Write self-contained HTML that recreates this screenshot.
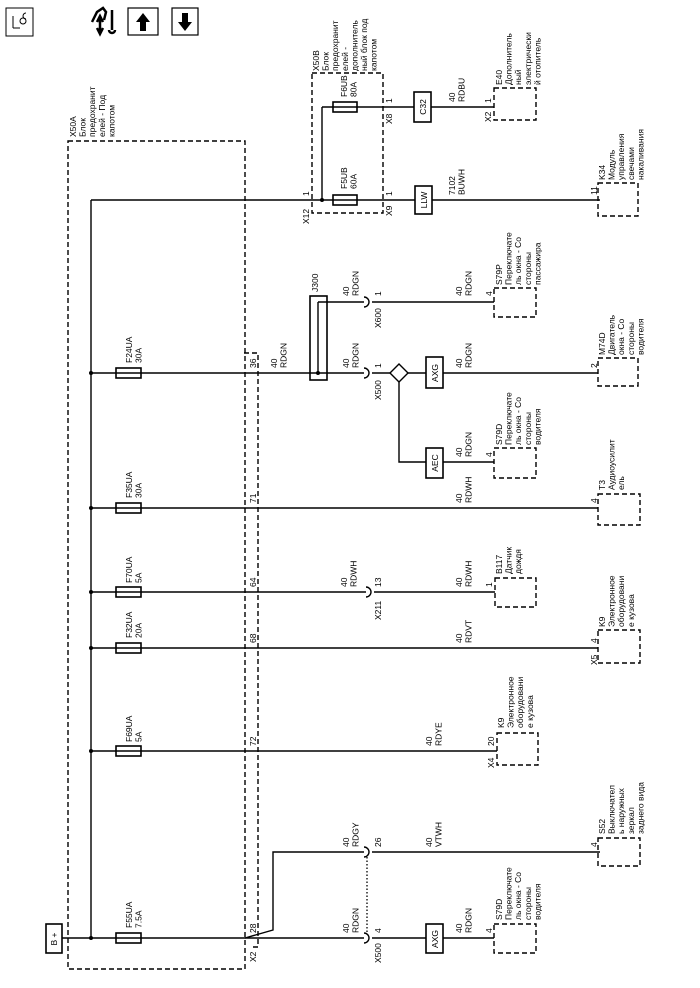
<!DOCTYPE html>
<html><head><meta charset="utf-8"><style>
html,body{margin:0;padding:0;background:#fff;}
svg{display:block;}
text{font-family:"Liberation Sans",sans-serif;font-size:8.5px;fill:#000;}
.w{stroke:#000;stroke-width:1.4;fill:none;}
.d{stroke:#000;stroke-width:1.4;fill:none;stroke-dasharray:5,3;}
.b{stroke:#000;stroke-width:1.6;fill:#fff;}
</style></head><body>
<svg width="700" height="988" viewBox="0 0 700 988" xmlns="http://www.w3.org/2000/svg">
<!-- top icons -->
<rect x="6" y="8" width="27" height="28" fill="#fff" stroke="#000" stroke-width="1"/>
<path d="M13,28 L13,16 M13,28 L20,28" stroke="#000" stroke-width="1" fill="none"/>
<circle cx="23" cy="21" r="3" stroke="#000" fill="none" stroke-width="1"/>
<path d="M26,13 A3,3 0 1 0 26,19" stroke="#000" fill="none" stroke-width="1"/>
<path d="M92,22 L97,12 L103,8 L106,12 L104,20 M100,18 L100,32 M97,28 L100,34 L103,28 M97,22 L100,16 L103,22 M112,10 L112,30 M109,30 A3,3 0 1 0 115,30" stroke="#000" stroke-width="2.5" fill="none"/>
<rect x="128" y="8" width="30" height="27" fill="#fff" stroke="#000" stroke-width="1.2"/>
<path d="M143,13 L150,22 L146,22 L146,31 L140,31 L140,22 L136,22 Z" fill="#000"/>
<rect x="172" y="8" width="26" height="27" fill="#fff" stroke="#000" stroke-width="1.2"/>
<path d="M185,31 L192,22 L188,22 L188,13 L182,13 L182,22 L178,22 Z" fill="#000"/>

<!-- X50A box -->
<rect class="d" x="68" y="141" width="177" height="828"/>
<path class="d" d="M244,353 L258,353 L258,947 L252,947"/>
<!-- X50B box -->
<rect class="d" x="312" y="73" width="71" height="140"/>

<!-- bus -->
<path class="w" d="M91,200 L91,938"/>
<!-- top wire -->
<path class="w" d="M91,200 L600,200"/>
<path class="w" d="M322,107 L322,200 M322,107 L494,107"/>
<circle cx="322" cy="200" r="2" fill="#000"/>
<rect class="b" x="333" y="195" width="24" height="10"/><path class="w" d="M333,200 L357,200"/>
<rect class="b" x="333" y="102" width="24" height="10"/><path class="w" d="M333,107 L357,107"/>
<rect class="b" x="415" y="186" width="17" height="28"/>
<rect class="b" x="414" y="92" width="17" height="30"/>
<rect class="d" x="494" y="88" width="42" height="32"/>
<rect class="d" x="598" y="183" width="40" height="33"/>

<!-- F24UA etc. wires -->
<path class="w" d="M91,373 L364,373 M372,373 L390,373 M408,373 L598,373"/>
<path class="w" d="M318,302 L318,373 M318,302 L364,302 M372,302 L494,302"/>
<path class="w" d="M364,368 A5,5 0 0 1 364,378 M364,297 A5,5 0 0 1 364,307"/>
<rect x="310" y="296" width="17" height="84" fill="none" stroke="#000" stroke-width="1.6"/>
<circle cx="318" cy="373" r="2" fill="#000"/>
<path d="M399,364 L408,373 L399,382 L390,373 Z" fill="#fff" stroke="#000" stroke-width="1.4"/>
<path class="w" d="M399,382 L399,462 L494,462"/>
<rect class="b" x="426" y="357" width="17" height="31"/>
<rect class="b" x="426" y="448" width="17" height="30"/>
<rect class="d" x="494" y="288" width="42" height="29"/>
<rect class="d" x="494" y="448" width="42" height="30"/>
<rect class="d" x="598" y="358" width="40" height="28"/>

<path class="w" d="M91,508 L598,508"/>
<rect class="d" x="598" y="494" width="42" height="31"/>
<path class="w" d="M91,592 L366,592 M374,592 L495,592 M366,587 A5,5 0 0 1 366,597"/>
<rect class="d" x="495" y="578" width="41" height="29"/>
<path class="w" d="M91,648 L598,648"/>
<rect class="d" x="598" y="630" width="42" height="33"/>
<path class="w" d="M91,751 L497,751"/>
<rect class="d" x="497" y="733" width="41" height="32"/>

<path class="w" d="M62,938 L245,938 L273,930 L273,852 L364,852 M372,852 L600,852 M364,847 A5,5 0 0 1 364,857"/>
<path class="w" d="M245,938 L364,938 M372,938 L494,938 M364,933 A5,5 0 0 1 364,943"/>
<path d="M367,857 L367,933" stroke="#000" stroke-width="1.3" stroke-dasharray="1.5,2"/>
<rect class="b" x="426" y="924" width="17" height="29"/>
<rect class="d" x="494" y="924" width="42" height="29"/>
<rect class="d" x="598" y="838" width="42" height="28"/>
<rect class="b" x="46" y="924" width="16" height="29"/>

<!-- fuses on bus -->
<g>
<rect class="b" x="116" y="368" width="25" height="10"/><path class="w" d="M116,373 L141,373"/>
<rect class="b" x="116" y="503" width="25" height="10"/><path class="w" d="M116,508 L141,508"/>
<rect class="b" x="116" y="587" width="25" height="10"/><path class="w" d="M116,592 L141,592"/>
<rect class="b" x="116" y="643" width="25" height="10"/><path class="w" d="M116,648 L141,648"/>
<rect class="b" x="116" y="746" width="25" height="10"/><path class="w" d="M116,751 L141,751"/>
<rect class="b" x="116" y="933" width="25" height="10"/><path class="w" d="M116,938 L141,938"/>
</g>
<g fill="#000">
<circle cx="91" cy="373" r="2"/><circle cx="91" cy="508" r="2"/><circle cx="91" cy="592" r="2"/>
<circle cx="91" cy="648" r="2"/><circle cx="91" cy="751" r="2"/><circle cx="91" cy="938" r="2"/>
</g>

<!-- box texts -->
<text transform="translate(57,939) rotate(-90)" text-anchor="middle">B +</text>
<text transform="translate(427,200) rotate(-90)" text-anchor="middle">LLW</text>
<text transform="translate(426,107) rotate(-90)" text-anchor="middle">C32</text>
<text transform="translate(438,373) rotate(-90)" text-anchor="middle">AXG</text>
<text transform="translate(438,463) rotate(-90)" text-anchor="middle">AEC</text>
<text transform="translate(438,939) rotate(-90)" text-anchor="middle">AXG</text>

<!-- labels -->
<text transform="translate(76,137) rotate(-90)"><tspan x="0">X50A</tspan><tspan x="0" dy="9.6">Блок</tspan><tspan x="0" dy="9.6">предохранит</tspan><tspan x="0" dy="9.6">елей - Под</tspan><tspan x="0" dy="9.6">капотом</tspan></text>
<text transform="translate(319,71) rotate(-90)"><tspan x="0">X50B</tspan><tspan x="0" dy="9.6">Блок</tspan><tspan x="0" dy="9.6">предохранит</tspan><tspan x="0" dy="9.6">елей -</tspan><tspan x="0" dy="9.6">дополнитель</tspan><tspan x="0" dy="9.6">ный блок под</tspan><tspan x="0" dy="9.6">капотом</tspan></text>
<text transform="translate(347,189) rotate(-90)"><tspan x="0">F5UB</tspan><tspan x="0" dy="9.6">60A</tspan></text>
<text transform="translate(347,97) rotate(-90)"><tspan x="0">F6UB</tspan><tspan x="0" dy="9.6">80A</tspan></text>
<text transform="translate(309,196) rotate(-90)">1</text>
<text transform="translate(309,224) rotate(-90)">X12</text>
<text transform="translate(392,196) rotate(-90)">1</text>
<text transform="translate(392,216) rotate(-90)">X9</text>
<text transform="translate(392,103) rotate(-90)">1</text>
<text transform="translate(392,124) rotate(-90)">X8</text>
<text transform="translate(455,102) rotate(-90)"><tspan x="0">40</tspan><tspan x="0" dy="9.6">RDBU</tspan></text>
<text transform="translate(491,103) rotate(-90)">1</text>
<text transform="translate(491,122) rotate(-90)">X2</text>
<text transform="translate(502,85) rotate(-90)"><tspan x="0">E40</tspan><tspan x="0" dy="9.6">Дополнитель</tspan><tspan x="0" dy="9.6">ный</tspan><tspan x="0" dy="9.6">электрически</tspan><tspan x="0" dy="9.6">й отопитель</tspan></text>
<text transform="translate(455,195) rotate(-90)"><tspan x="0">7102</tspan><tspan x="0" dy="9.6">BUWH</tspan></text>
<text transform="translate(597,195) rotate(-90)">11</text>
<text transform="translate(605,180) rotate(-90)"><tspan x="0">K34</tspan><tspan x="0" dy="9.6">Модуль</tspan><tspan x="0" dy="9.6">управления</tspan><tspan x="0" dy="9.6">свечами</tspan><tspan x="0" dy="9.6">накаливания</tspan></text>

<text transform="translate(318,292) rotate(-90)">J300</text>
<text transform="translate(349,296) rotate(-90)"><tspan x="0">40</tspan><tspan x="0" dy="9.6">RDGN</tspan></text>
<text transform="translate(381,296) rotate(-90)">1</text>
<text transform="translate(381,328) rotate(-90)">X600</text>
<text transform="translate(462,296) rotate(-90)"><tspan x="0">40</tspan><tspan x="0" dy="9.6">RDGN</tspan></text>
<text transform="translate(492,296) rotate(-90)">4</text>
<text transform="translate(502,285) rotate(-90)"><tspan x="0">S79P</tspan><tspan x="0" dy="9.6">Переключате</tspan><tspan x="0" dy="9.6">ль окна - Со</tspan><tspan x="0" dy="9.6">стороны</tspan><tspan x="0" dy="9.6">пассажира</tspan></text>

<text transform="translate(256,368) rotate(-90)">36</text>
<text transform="translate(277,368) rotate(-90)"><tspan x="0">40</tspan><tspan x="0" dy="9.6">RDGN</tspan></text>
<text transform="translate(349,368) rotate(-90)"><tspan x="0">40</tspan><tspan x="0" dy="9.6">RDGN</tspan></text>
<text transform="translate(381,368) rotate(-90)">1</text>
<text transform="translate(381,400) rotate(-90)">X500</text>
<text transform="translate(462,368) rotate(-90)"><tspan x="0">40</tspan><tspan x="0" dy="9.6">RDGN</tspan></text>
<text transform="translate(597,368) rotate(-90)">2</text>
<text transform="translate(605,355) rotate(-90)"><tspan x="0">M74D</tspan><tspan x="0" dy="9.6">Двигатель</tspan><tspan x="0" dy="9.6">окна - Со</tspan><tspan x="0" dy="9.6">стороны</tspan><tspan x="0" dy="9.6">водителя</tspan></text>
<text transform="translate(462,457) rotate(-90)"><tspan x="0">40</tspan><tspan x="0" dy="9.6">RDGN</tspan></text>
<text transform="translate(492,457) rotate(-90)">4</text>
<text transform="translate(502,445) rotate(-90)"><tspan x="0">S79D</tspan><tspan x="0" dy="9.6">Переключате</tspan><tspan x="0" dy="9.6">ль окна - Со</tspan><tspan x="0" dy="9.6">стороны</tspan><tspan x="0" dy="9.6">водителя</tspan></text>

<text transform="translate(256,503) rotate(-90)">71</text>
<text transform="translate(462,503) rotate(-90)"><tspan x="0">40</tspan><tspan x="0" dy="9.6">RDWH</tspan></text>
<text transform="translate(597,503) rotate(-90)">4</text>
<text transform="translate(605,490) rotate(-90)"><tspan x="0">T3</tspan><tspan x="0" dy="9.6">Аудиоусилит</tspan><tspan x="0" dy="9.6">ель</tspan></text>

<text transform="translate(256,587) rotate(-90)">64</text>
<text transform="translate(347,587) rotate(-90)"><tspan x="0">40</tspan><tspan x="0" dy="9.6">RDWH</tspan></text>
<text transform="translate(381,587) rotate(-90)">13</text>
<text transform="translate(381,620) rotate(-90)">X211</text>
<text transform="translate(462,587) rotate(-90)"><tspan x="0">40</tspan><tspan x="0" dy="9.6">RDWH</tspan></text>
<text transform="translate(492,587) rotate(-90)">1</text>
<text transform="translate(502,574) rotate(-90)"><tspan x="0">B117</tspan><tspan x="0" dy="9.6">Датчик</tspan><tspan x="0" dy="9.6">дождя</tspan></text>

<text transform="translate(256,643) rotate(-90)">68</text>
<text transform="translate(462,643) rotate(-90)"><tspan x="0">40</tspan><tspan x="0" dy="9.6">RDVT</tspan></text>
<text transform="translate(597,643) rotate(-90)">4</text>
<text transform="translate(597,665) rotate(-90)">X5</text>
<text transform="translate(605,627) rotate(-90)"><tspan x="0">K9</tspan><tspan x="0" dy="9.6">Электронное</tspan><tspan x="0" dy="9.6">оборудовани</tspan><tspan x="0" dy="9.6">е кузова</tspan></text>

<text transform="translate(256,746) rotate(-90)">72</text>
<text transform="translate(432,746) rotate(-90)"><tspan x="0">40</tspan><tspan x="0" dy="9.6">RDYE</tspan></text>
<text transform="translate(494,746) rotate(-90)">20</text>
<text transform="translate(494,768) rotate(-90)">X4</text>
<text transform="translate(504,728) rotate(-90)"><tspan x="0">K9</tspan><tspan x="0" dy="9.6">Электронное</tspan><tspan x="0" dy="9.6">оборудовани</tspan><tspan x="0" dy="9.6">е кузова</tspan></text>

<text transform="translate(256,933) rotate(-90)">28</text>
<text transform="translate(256,962) rotate(-90)">X2</text>
<text transform="translate(349,847) rotate(-90)"><tspan x="0">40</tspan><tspan x="0" dy="9.6">RDGY</tspan></text>
<text transform="translate(381,847) rotate(-90)">26</text>
<text transform="translate(432,847) rotate(-90)"><tspan x="0">40</tspan><tspan x="0" dy="9.6">VTWH</tspan></text>
<text transform="translate(597,847) rotate(-90)">4</text>
<text transform="translate(605,834) rotate(-90)"><tspan x="0">S52</tspan><tspan x="0" dy="9.6">Выключател</tspan><tspan x="0" dy="9.6">ь наружных</tspan><tspan x="0" dy="9.6">зеркал</tspan><tspan x="0" dy="9.6">заднего вида</tspan></text>
<text transform="translate(349,933) rotate(-90)"><tspan x="0">40</tspan><tspan x="0" dy="9.6">RDGN</tspan></text>
<text transform="translate(381,933) rotate(-90)">4</text>
<text transform="translate(381,963) rotate(-90)">X500</text>
<text transform="translate(462,933) rotate(-90)"><tspan x="0">40</tspan><tspan x="0" dy="9.6">RDGN</tspan></text>
<text transform="translate(492,933) rotate(-90)">4</text>
<text transform="translate(502,920) rotate(-90)"><tspan x="0">S79D</tspan><tspan x="0" dy="9.6">Переключате</tspan><tspan x="0" dy="9.6">ль окна - Со</tspan><tspan x="0" dy="9.6">стороны</tspan><tspan x="0" dy="9.6">водителя</tspan></text>

<!-- fuse labels -->
<text transform="translate(132,363) rotate(-90)"><tspan x="0">F24UA</tspan><tspan x="0" dy="9.6">30A</tspan></text>
<text transform="translate(132,498) rotate(-90)"><tspan x="0">F35UA</tspan><tspan x="0" dy="9.6">30A</tspan></text>
<text transform="translate(132,583) rotate(-90)"><tspan x="0">F70UA</tspan><tspan x="0" dy="9.6">5A</tspan></text>
<text transform="translate(132,638) rotate(-90)"><tspan x="0">F32UA</tspan><tspan x="0" dy="9.6">20A</tspan></text>
<text transform="translate(132,742) rotate(-90)"><tspan x="0">F69UA</tspan><tspan x="0" dy="9.6">5A</tspan></text>
<text transform="translate(132,928) rotate(-90)"><tspan x="0">F55UA</tspan><tspan x="0" dy="9.6">7.5A</tspan></text>
</svg>
</body></html>
